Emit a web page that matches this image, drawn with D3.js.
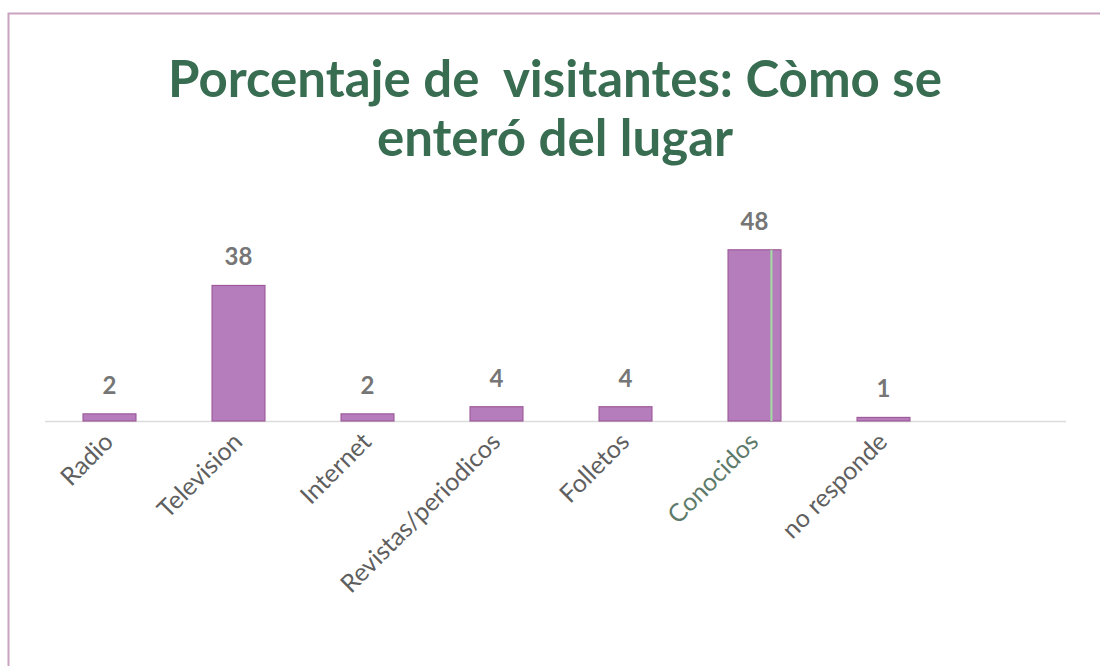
<!DOCTYPE html>
<html>
<head>
<meta charset="utf-8">
<script src="https://cdn.jsdelivr.net/npm/d3@7"></script>
<style>
  body { margin: 0; background: #fff; }
  svg { display: block; }
</style>
</head>
<body>
<div id="chart"></div>
<script>
const categories = ["Radio", "Television", "Internet", "Revistas/periodicos", "Folletos", "Conocidos", "no responde"];
const values = [2, 38, 2, 4, 4, 48, 1];
const titleLines = ["Porcentaje de  visitantes: Còmo se", "enteró del lugar"];

const width = 1100, height = 666;
const font = "Lato, 'Open Sans', sans-serif";

const svg = d3.select("#chart")
    .append("svg")
    .attr("width", width)
    .attr("height", height);

// marco del gráfico (solo se ven los bordes superior e izquierdo)
svg.append("rect")
    .attr("x", 8.5).attr("y", 13.5)
    .attr("width", 1200).attr("height", 800)
    .attr("fill", "none")
    .attr("stroke", "#c9a3bf")
    .attr("stroke-width", 2);

svg.append("g")
    .selectAll("text")
    .data(titleLines)
    .join("text")
    .attr("x", 555)
    .attr("y", (d, i) => 97 + i * 59)
    .attr("text-anchor", "middle")
    .attr("font-family", font)
    .attr("font-weight", "bold")
    .attr("font-size", 51)
    .attr("fill", "#386d52")
    .style("white-space", "pre")
    .text(d => d);

const x = d3.scaleBand()
    .domain(categories)
    .range([45, 948])
    .paddingInner(0.59)
    .paddingOuter(0.295);

const y = d3.scaleLinear()
    .domain([0, 60])
    .range([421, 207]);

// línea del eje
svg.append("line")
    .attr("x1", 45).attr("x2", 1066)
    .attr("y1", y(0) + 0.5).attr("y2", y(0) + 0.5)
    .attr("stroke", "#dcdcdc")
    .attr("stroke-width", 1.5);

svg.append("g")
    .selectAll("rect")
    .data(values)
    .join("rect")
    .attr("x", (d, i) => x(categories[i]))
    .attr("y", d => y(d))
    .attr("width", x.bandwidth())
    .attr("height", d => y(0) - y(d))
    .attr("fill", "#b67dbc")
    .attr("stroke", "#9e5a9a")
    .attr("stroke-width", 1.2);

// raya verde dentro de "Conocidos"
const ci = categories.indexOf("Conocidos");
svg.append("line")
    .attr("x1", x(categories[ci]) + x.bandwidth() * 0.82)
    .attr("x2", x(categories[ci]) + x.bandwidth() * 0.82)
    .attr("y1", y(values[ci]))
    .attr("y2", y(0))
    .attr("stroke", "#9fe0a0")
    .attr("stroke-width", 2);

svg.append("g")
    .selectAll("text")
    .data(values)
    .join("text")
    .attr("x", (d, i) => x(categories[i]) + x.bandwidth() / 2)
    .attr("y", d => y(d) - 20)
    .attr("text-anchor", "middle")
    .attr("font-family", font)
    .attr("font-weight", "bold")
    .attr("font-size", 24)
    .attr("fill", "#767676")
    .text(d => d);

svg.append("g")
    .selectAll("text")
    .data(categories)
    .join("text")
    .attr("transform", d => `translate(${x(d) + x.bandwidth() / 2 - 7},${y(0) + 10}) rotate(-45)`)
    .attr("text-anchor", "end")
    .attr("dy", "0.7em")
    .attr("font-family", font)
    .attr("font-size", 25)
    .attr("fill", d => d === "Conocidos" ? "#5d7a6a" : "#5f5f5f")
    .text(d => d);
</script>
</body>
</html>
